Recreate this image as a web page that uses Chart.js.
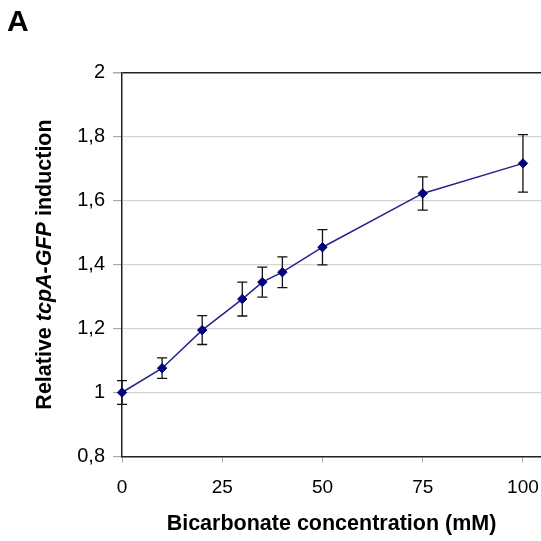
<!DOCTYPE html>
<html>
<head>
<meta charset="utf-8">
<script src="https://cdn.jsdelivr.net/npm/chart.js@4/dist/chart.umd.min.js"></script>
<style>
  body { margin: 0; background: #fff; }
  #wrap { width: 541px; height: 541px; }
</style>
</head>
<body>
<div id="wrap"><canvas id="graf" width="541" height="541"></canvas></div>
<script>
// bicarbonate (mM) vs relative tcpA-GFP induction, mean +/- error
var concentration = [0, 10, 20, 30, 35, 40, 50, 75, 100];
var induction = [1.0, 1.076, 1.195, 1.292, 1.345, 1.376, 1.454, 1.622, 1.716];
var errors = [0.037, 0.032, 0.045, 0.053, 0.047, 0.048, 0.055, 0.052, 0.09];
var xTickValues = [0, 25, 50, 75, 100];

var points = concentration.map(function (c, i) {
    return { x: c, y: induction[i] };
});

function commaLabel(v) {
    return String(Math.round(v * 10) / 10).replace('.', ',');
}

var FONT = '"Liberation Sans", Arial, sans-serif';

// vertical error bars with caps, drawn under the markers
var errorBars = {
    id: 'errorBars',
    beforeDatasetsDraw: function (chart) {
        var ctx = chart.ctx;
        var xs = chart.scales.x, ys = chart.scales.y;
        ctx.save();
        ctx.strokeStyle = '#111';
        ctx.lineWidth = 1.3;
        concentration.forEach(function (c, i) {
            var px = xs.getPixelForValue(c);
            var top = ys.getPixelForValue(induction[i] + errors[i]);
            var bot = ys.getPixelForValue(induction[i] - errors[i]);
            ctx.beginPath();
            ctx.moveTo(px, top); ctx.lineTo(px, bot);
            ctx.moveTo(px - 5, top); ctx.lineTo(px + 5, top);
            ctx.moveTo(px - 5, bot); ctx.lineTo(px + 5, bot);
            ctx.stroke();
        });
        ctx.restore();
    }
};

// panel letter and the y title with the italic gene name
var extraText = {
    id: 'extraText',
    afterDraw: function (chart) {
        var ctx = chart.ctx;
        var area = chart.chartArea;
        ctx.save();
        ctx.fillStyle = '#000';
        ctx.font = 'bold 30px ' + FONT;
        ctx.textBaseline = 'alphabetic';
        ctx.fillText('A', 7, 31);

        var parts = [
            ['Relative ', 'bold 21.5px ' + FONT],
            ['tcpA-GFP', 'italic bold 21.5px ' + FONT],
            [' induction', 'bold 21.5px ' + FONT]
        ];
        var total = 0;
        parts.forEach(function (p) { ctx.font = p[1]; total += ctx.measureText(p[0]).width; });
        var cy = (area.top + area.bottom) / 2;
        ctx.translate(45, cy);
        ctx.rotate(-Math.PI / 2);
        ctx.textBaseline = 'middle';
        var x = -total / 2;
        parts.forEach(function (p) {
            ctx.font = p[1];
            ctx.fillText(p[0], x, 0);
            x += ctx.measureText(p[0]).width;
        });
        ctx.restore();
    }
};

var ctx = document.getElementById('graf').getContext('2d');
var myChart = new Chart(ctx, {
    type: 'scatter',
    data: {
        datasets: [{
            data: points,
            showLine: true,
            borderColor: '#23238c',
            borderWidth: 1.5,
            pointStyle: 'rectRot',
            pointRadius: 4.7,
            pointBackgroundColor: '#00007a',
            pointBorderColor: '#00007a',
            pointBorderWidth: 1,
            clip: false
        }]
    },
    options: {
        responsive: false,
        animation: false,
        layout: {
            autoPadding: false,
            padding: { top: 72.5, left: 0, right: 0, bottom: 0 }
        },
        plugins: {
            legend: { display: false },
            tooltip: { enabled: false }
        },
        scales: {
            x: {
                type: 'linear',
                min: 0,
                max: 104.5,
                afterBuildTicks: function (scale) {
                    scale.ticks = xTickValues.map(function (v) { return { value: v }; });
                },
                afterFit: function (scale) {
                    scale.height = 84.5;
                    scale.paddingLeft = 0;
                    scale.paddingRight = 0;
                },
                grid: {
                    drawOnChartArea: false,
                    drawTicks: true,
                    tickLength: 6,
                    tickColor: '#aaa'
                },
                border: { display: true, color: '#222', width: 1.5 },
                ticks: {
                    padding: 14,
                    color: '#000',
                    maxRotation: 0,
                    font: { family: FONT, size: 19 }
                },
                title: {
                    display: true,
                    text: 'Bicarbonate concentration (mM)',
                    color: '#000',
                    padding: { top: 0, bottom: 4 },
                    font: { family: FONT, size: 21.5, weight: 'bold' }
                }
            },
            y: {
                min: 0.8,
                max: 2,
                afterFit: function (scale) { scale.width = 122; },
                grid: {
                    color: function (c) { return c.tick && c.tick.value === 2 ? '#222' : '#d4d4d4'; },
                    lineWidth: function (c) { return c.tick && c.tick.value === 2 ? 1.5 : 1.2; },
                    tickLength: 9,
                    tickColor: '#aaa'
                },
                border: { display: true, color: '#222', width: 1.5 },
                ticks: {
                    stepSize: 0.2,
                    padding: 8,
                    color: '#000',
                    font: { family: FONT, size: 20 },
                    callback: function (v) { return commaLabel(v); }
                }
            }
        }
    },
    plugins: [errorBars, extraText]
});
</script>
</body>
</html>
